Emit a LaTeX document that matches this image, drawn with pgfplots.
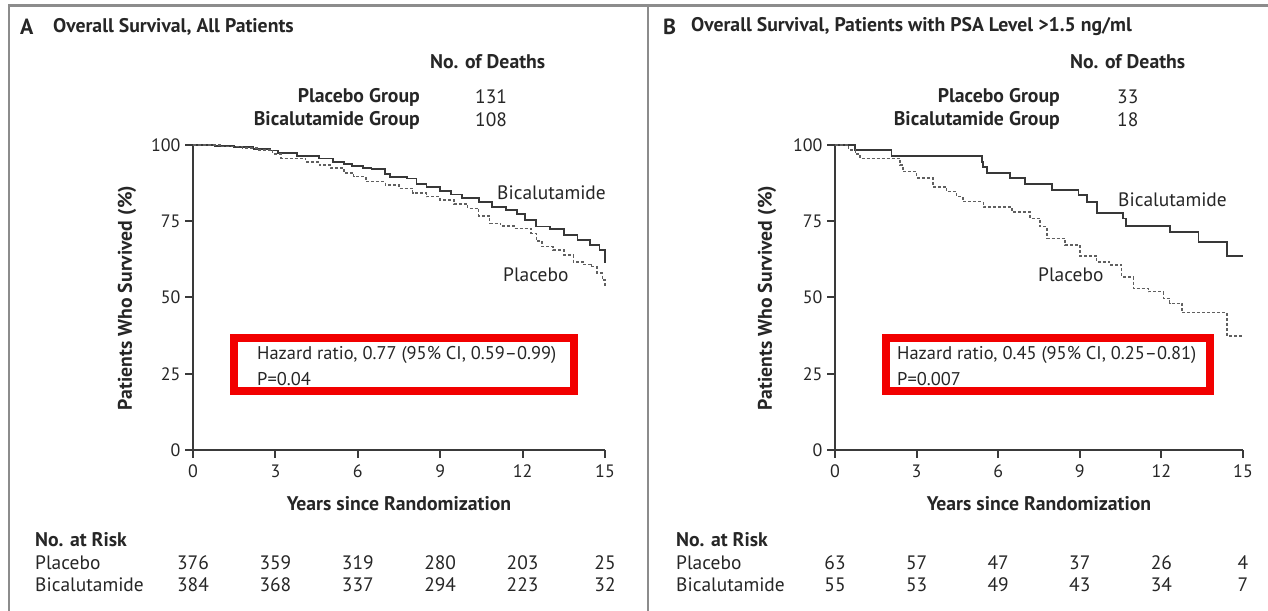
\documentclass[border=0pt]{standalone}
\usepackage{fontspec}
\setmainfont{PT Sans}
\usepackage{pgfplots}
\pgfplotsset{compat=1.18}
\definecolor{txt}{HTML}{262626}
\definecolor{axc}{HTML}{3A3A3A}
\definecolor{frm}{HTML}{8C8C8C}
\definecolor{hrred}{HTML}{F20000}
\definecolor{solidc}{HTML}{383838}
\definecolor{dashc}{HTML}{606060}
\newcommand{\fs}{\fontsize{19.5}{22}\selectfont}
\newcommand{\fb}{\fontsize{19.8}{22}\selectfont\bfseries}
\newcommand{\fbig}{\fontsize{22}{24}\selectfont\bfseries}
\newcommand{\fn}{\fontsize{18.5}{21}\selectfont}
\newcommand{\ft}{\fontsize{18}{21}\selectfont}

\pgfplotstableread{
x y
0 100
0.8 99.7
1.5 99.3
2.2 98.8
2.8 98.2
3.1 97.3
3.8 96.4
4.6 95.6
5.1 94.5
5.5 93.8
5.8 93.1
6.2 92.5
6.5 92.0
7.0 90.6
7.17 89.6
7.8 89.0
8.14 87.3
8.5 86.3
9.0 85.0
9.4 83.8
9.8 82.6
10.4 81.4
10.9 79.8
11.4 78.7
11.8 77.3
12.1 75.5
12.5 73.3
13.0 72.4
13.5 70.5
14.0 68.9
14.45 67.2
14.8 65.6
15.0 61.2
}\bicA
\pgfplotstableread{
x y
0 100
1.0 99.5
1.8 99.0
2.4 98.4
2.9 97.0
3.2 95.6
4.1 94.5
4.6 93.5
5.0 92.4
5.5 90.8
5.85 89.6
6.3 88.0
7.0 86.9
7.5 85.8
8.0 84.2
8.5 83.1
9.0 82.0
9.5 80.6
10.0 79.2
10.4 76.8
10.8 74.3
11.2 73.5
11.7 72.7
12.3 71.0
12.5 68.5
12.7 66.7
13.1 65.5
13.5 63.9
13.85 61.7
14.2 60.8
14.5 60.1
14.7 58.0
14.9 55.7
15.0 53.5
}\plaA
\pgfplotstableread{
x y
0 100
0.74 98.4
2.08 96.5
5.39 94.5
5.45 92.9
5.58 90.9
6.43 89.1
6.99 87.2
7.97 85.2
8.95 83.6
9.25 81.4
9.62 77.6
10.6 75.9
10.7 73.5
12.32 71.4
13.36 68.3
14.42 63.6
15.0 63.6
}\bicB
\pgfplotstableread{
x y
0 100
0.5 98.4
0.75 97.0
0.92 95.6
2.39 93.4
2.5 91.3
3.0 89.1
3.6 86.3
4.1 84.7
4.47 83.1
4.7 81.4
5.45 79.6
6.5 78.1
7.17 75.9
7.54 73.2
7.8 69.4
8.46 67.2
9.0 63.6
9.62 61.7
10.1 60.7
10.54 56.8
10.97 53.0
11.52 51.9
12.07 49.7
12.3 48.1
12.75 45.0
14.42 37.4
15.0 37.4
}\plaB

\pgfplotsset{kmstyle/.style={
  scale only axis, width=412bp, height=305bp,
  xmin=0,xmax=15,ymin=0,ymax=100,
  axis lines*=left, axis line style={axc, line width=2.2bp},
  xtick={0,3,6,9,12,15}, ytick={0,25,50,75,100},
  tick align=outside, major tick length=8bp,
  tick style={axc, line width=2bp},
  ticklabel style={font=\ft, text=txt},
  xticklabel style={yshift=-3bp},
  yticklabel style={xshift=-1bp},
  /pgf/number format/assume math mode=true,
  clip=false,
}}

\begin{document}
\begin{tikzpicture}
% axes
\begin{axis}[kmstyle, at={(193bp,161bp)}, anchor=south west]
\addplot[const plot, solidc, line width=1.8bp] table[x=x,y=y]{\bicA};
\addplot[const plot, dashc, line width=1.5bp, dash pattern=on 3bp off 2bp] table[x=x,y=y]{\plaA};
\end{axis}
\begin{axis}[kmstyle, width=408bp, at={(835bp,161bp)}, anchor=south west]
\addplot[const plot, solidc, line width=1.8bp] table[x=x,y=y]{\bicB};
\addplot[const plot, dashc, line width=1.5bp, dash pattern=on 3bp off 2bp] table[x=x,y=y]{\plaB};
\end{axis}

\begin{scope}[x=1bp, y=-1bp, shift={(0bp,611bp)}, every node/.style={text=txt, inner sep=0pt}]
% frames
\draw[frm, line width=2.5bp] (9,611) -- (9,5.5) -- (1268,5.5);
\draw[frm, line width=2.5bp] (648,5.5) -- (648,611);

% ---------- Panel A ----------
\node[anchor=west, font=\fbig] at (20,27) {A};
\node[anchor=west, font=\fb] at (53,27) {Overall Survival, All Patients};
\node[anchor=west, font=\fb] at (430,62) {No. of Deaths};
\node[anchor=east, font=\fb] at (420,97) {Placebo Group};
\node[anchor=west, font=\fs] at (475,97) {131};
\node[anchor=east, font=\fb] at (420,120) {Bicalutamide Group};
\node[anchor=west, font=\fs] at (475,120) {108};
\node[anchor=west, font=\fs] at (497,193) {Bicalutamide};
\node[anchor=west, font=\fs] at (503,275) {Placebo};
\draw[hrred, line width=8bp] (234,338) rectangle (574,391);
\node[anchor=west, font=\fn] at (257,355) {Hazard ratio, 0.77 (95\% CI, 0.59--0.99)};
\node[anchor=west, font=\fn] at (257,379) {P=0.04};
\node[rotate=90, font=\fb] at (127,298) {Patients Who Survived (\%)};
\node[font=\fb] at (399,504) {Years since Randomization};
\node[anchor=west, font=\fb] at (35,540) {No. at Risk};
\node[anchor=west, font=\fs] at (35,563) {Placebo};
\node[anchor=west, font=\fs] at (35,585) {Bicalutamide};
\foreach \xx/\p/\b in {193/376/384, 275.4/359/368, 357.8/319/337, 440.2/280/294, 522.6/203/223, 605/25/32}{
  \node[font=\fs] at (\xx,563) {\p};
  \node[font=\fs] at (\xx,585) {\b};
}

% ---------- Panel B ----------
\node[anchor=west, font=\fbig] at (663,27) {B};
\node[anchor=west, font=\fb] at (691,27) {Overall Survival, Patients with PSA Level >1.5 ng/ml};
\node[anchor=west, font=\fb] at (1070,62) {No. of Deaths};
\node[anchor=east, font=\fb] at (1060,97) {Placebo Group};
\node[anchor=west, font=\fs] at (1117,97) {33};
\node[anchor=east, font=\fb] at (1060,120) {Bicalutamide Group};
\node[anchor=west, font=\fs] at (1117,120) {18};
\node[anchor=west, font=\fs] at (1118,200) {Bicalutamide};
\node[anchor=west, font=\fs] at (1038,275) {Placebo};
\draw[hrred, line width=8bp] (886,338) rectangle (1210,391);
\node[anchor=west, font=\fn] at (897,355) {Hazard ratio, 0.45 (95\% CI, 0.25--0.81)};
\node[anchor=west, font=\fn] at (897,379) {P=0.007};
\node[rotate=90, font=\fb] at (767,298) {Patients Who Survived (\%)};
\node[font=\fb] at (1039,504) {Years since Randomization};
\node[anchor=west, font=\fb] at (676,540) {No. at Risk};
\node[anchor=west, font=\fs] at (676,563) {Placebo};
\node[anchor=west, font=\fs] at (676,585) {Bicalutamide};
\foreach \xx/\p/\b in {835/63/55, 916.6/57/53, 998.2/47/49, 1079.8/37/43, 1161.4/26/34, 1243/4/7}{
  \node[font=\fs] at (\xx,563) {\p};
  \node[font=\fs] at (\xx,585) {\b};
}
\end{scope}
\pgfresetboundingbox
\path[use as bounding box] (0,0) rectangle (1268bp,611bp);
\end{tikzpicture}
\end{document}
